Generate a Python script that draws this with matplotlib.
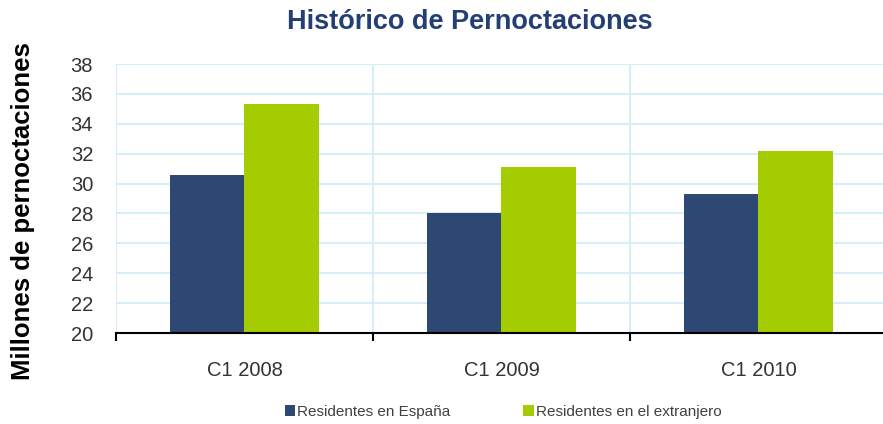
import numpy as np
import matplotlib.pyplot as plt

categories = ['C1 2008', 'C1 2009', 'C1 2010']
residentes_espana = [30.6, 28.0, 29.3]
residentes_extranjero = [35.3, 31.1, 32.2]
series_labels = ['Residentes en España', 'Residentes en el extranjero']

BLUE = '#2e4874'
GREEN = '#a4cc00'
GRID = '#d5eef8'

plt.rcParams['font.family'] = ['Liberation Sans', 'DejaVu Sans']

fig = plt.figure(figsize=(8.83, 4.24), dpi=100)
ax = fig.add_axes([116 / 883, 1 - 333 / 424, 771 / 883, 269 / 424])

x = np.arange(len(categories))
w = 0.29
b1 = ax.bar(x - w / 2, np.array(residentes_espana) - 20, w, bottom=20,
            color=BLUE, label=series_labels[0], zorder=3)
b2 = ax.bar(x + w / 2, np.array(residentes_extranjero) - 20, w, bottom=20,
            color=GREEN, label=series_labels[1], zorder=3)

ax.set_xlim(-0.5, 2.5)
ax.set_ylim(20, 38)
ax.set_yticks(np.arange(20, 39, 2))
ax.tick_params(axis='y', length=0, labelsize=14.5, labelcolor='#333333', pad=16.5)

# category boundaries as ticks, labels at centres
ax.set_xticks([-0.5, 0.5, 1.5, 2.5])
ax.set_xticklabels([])
ax.set_xticks(x, minor=True)
ax.set_xticklabels(categories, minor=True)
ax.tick_params(axis='x', which='major', length=6, width=1.5, color='black')
ax.tick_params(axis='x', which='minor', length=0, labelsize=14.5,
               labelcolor='#333333', pad=20)

ax.grid(True, which='major', color=GRID, linewidth=1.5, zorder=0)
for s in ['top', 'right', 'left']:
    ax.spines[s].set_visible(False)
ax.spines['bottom'].set_linewidth(1.5)
ax.spines['bottom'].set_zorder(4)

fig.text(470 / 883, 1 - 22 / 424, 'Histórico de Pernoctaciones', ha='center',
         va='center', fontsize=19.5, fontweight='bold', color='#243f73')
fig.text(23 / 883, 1 - 211 / 424, 'Millones de pernoctaciones', ha='center',
         va='center', rotation=90, fontsize=18.5, fontweight='bold', color='black')

fig.legend(handles=[b1, b2], loc='center', bbox_to_anchor=(503 / 883, 1 - 412 / 424),
           ncol=2, frameon=False, fontsize=11, handlelength=0.7, handleheight=0.7,
           handletextpad=0.1, columnspacing=4.8, labelcolor='#404040')

fig.savefig('out.png', dpi=100)
